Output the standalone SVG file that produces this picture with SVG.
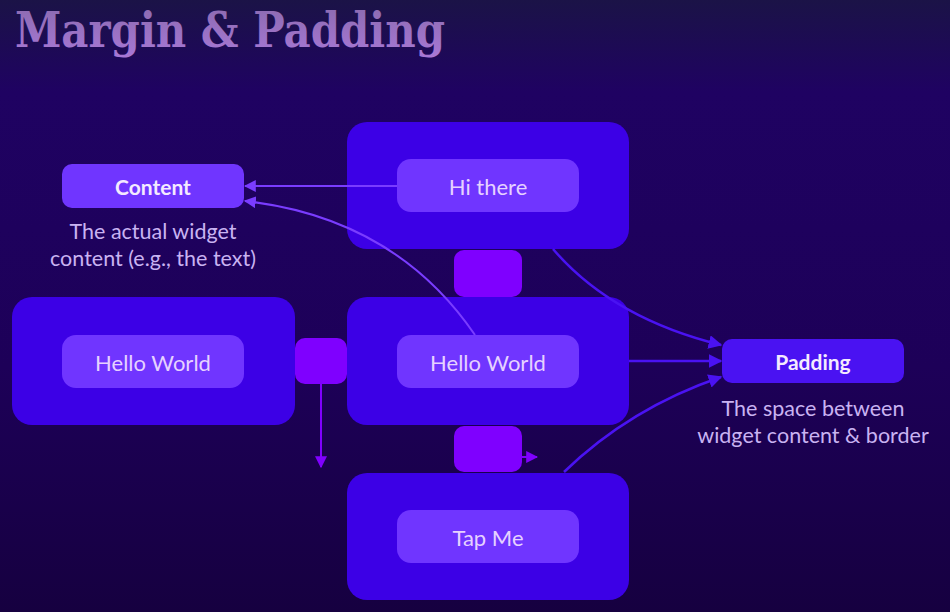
<svg xmlns="http://www.w3.org/2000/svg" width="950" height="612" viewBox="0 0 950 612">
  <defs>
    <linearGradient id="bg" x1="0" y1="0" x2="0" y2="1">
      <stop offset="0" stop-color="#1b1347"/>
      <stop offset="0.15" stop-color="#1f0262"/>
      <stop offset="0.6" stop-color="#1d0058"/>
      <stop offset="1" stop-color="#160040"/>
    </linearGradient>
    <linearGradient id="tg" x1="0" y1="0" x2="0" y2="1">
      <stop offset="0" stop-color="#8a6aae"/>
      <stop offset="1" stop-color="#a878d6"/>
    </linearGradient>
    <marker id="ac" viewBox="0 0 10 10" refX="9" refY="5" markerWidth="6" markerHeight="6" orient="auto" markerUnits="strokeWidth">
      <path d="M0,0 L10,5 L0,10 z" fill="#7a3cff"/>
    </marker>
    <marker id="ap" viewBox="0 0 10 10" refX="9" refY="5" markerWidth="5.5" markerHeight="5.5" orient="auto" markerUnits="strokeWidth">
      <path d="M0,0 L10,5 L0,10 z" fill="#4a12f2"/>
    </marker>
    <marker id="am" viewBox="0 0 10 10" refX="9" refY="5" markerWidth="6" markerHeight="6" orient="auto" markerUnits="strokeWidth">
      <path d="M0,0 L10,5 L0,10 z" fill="#8000ff"/>
    </marker>
  </defs>
  <style>
    .outer { fill: #3c00e6; }
    .inner { fill: #7035ff; }
    .margin { fill: #7f00ff; }
    .lbl { font-family: Lato, "Open Sans", sans-serif; font-size: 22px; fill: #e6d2ff; text-anchor: middle; dominant-baseline: central; }
    .desc { font-family: Lato, "Open Sans", sans-serif; font-size: 21.5px; fill: #c9b3f2; text-anchor: middle; }
    .key { font-family: Lato, "Open Sans", sans-serif; font-size: 21px; font-weight: bold; fill: #f4eaff; text-anchor: middle; dominant-baseline: central; }
    .cl { fill: none; stroke: #7a3cff; stroke-width: 2; }
    .pl { fill: none; stroke: #4a12f2; stroke-width: 2.5; }
    .ml { fill: none; stroke: #8000ff; stroke-width: 2; }
  </style>
  <rect x="0" y="0" width="950" height="612" fill="url(#bg)"/>
  <text x="15" y="47" font-family="'DejaVu Serif', 'Liberation Serif', serif" font-weight="bold" font-size="48" fill="url(#tg)" textLength="430" lengthAdjust="spacingAndGlyphs">Margin &amp; Padding</text>

  <g id="hi-there">
    <rect class="outer" x="347" y="122" width="282" height="127" rx="20"/>
    <rect class="inner" x="397" y="159" width="182" height="53" rx="14"/>
    <text class="lbl" x="488" y="186">Hi there</text>
  </g>
  <g id="hello-world-left">
    <rect class="outer" x="12" y="297" width="283" height="128" rx="20"/>
    <rect class="inner" x="62" y="335" width="182" height="53" rx="14"/>
    <text class="lbl" x="153" y="362">Hello World</text>
  </g>
  <g id="hello-world-center">
    <rect class="outer" x="347" y="297" width="282" height="128" rx="20"/>
    <rect class="inner" x="397" y="335" width="182" height="53" rx="14"/>
    <text class="lbl" x="488" y="362">Hello World</text>
  </g>
  <g id="tap-me">
    <rect class="outer" x="347" y="473" width="282" height="127" rx="20"/>
    <rect class="inner" x="397" y="510" width="182" height="53" rx="14"/>
    <text class="lbl" x="488" y="537">Tap Me</text>
  </g>
  <g id="margin-top">
    <rect class="margin" x="454" y="250" width="68" height="47" rx="10"/>
  </g>
  <g id="margin-left">
    <rect class="margin" x="295" y="338" width="52" height="46" rx="10"/>
  </g>
  <g id="margin-bottom">
    <rect class="margin" x="454" y="426" width="68" height="46" rx="10"/>
  </g>
  <g id="content-label">
    <rect class="inner" x="62" y="164" width="182" height="44" rx="10"/>
    <text class="key" x="153" y="186">Content</text>
    <text class="desc" x="153" y="239">The actual widget</text>
    <text class="desc" x="153" y="266">content (e.g., the text)</text>
  </g>
  <g id="padding-label">
    <rect x="722" y="339" width="182" height="44" rx="10" fill="#4a12f2"/>
    <text class="key" x="813" y="361">Padding</text>
    <text class="desc" x="813" y="416">The space between</text>
    <text class="desc" x="813" y="443">widget content &amp; border</text>
  </g>

  <g id="connectors">
    <path class="cl" d="M397 186 L245 186" marker-end="url(#ac)"/>
    <path class="cl" d="M475 335 Q395 218 245 201" marker-end="url(#ac)"/>
    <path class="pl" d="M553 249 Q612 318 721 345" marker-end="url(#ap)"/>
    <path class="pl" d="M629 361 L721 361" marker-end="url(#ap)"/>
    <path class="pl" d="M564 472 Q630 408 721 377" marker-end="url(#ap)"/>
    <path class="ml" d="M321 384 L321 467" marker-end="url(#am)"/>
    <path class="ml" d="M522 457 L537 457" marker-end="url(#am)"/>
  </g>
</svg>
